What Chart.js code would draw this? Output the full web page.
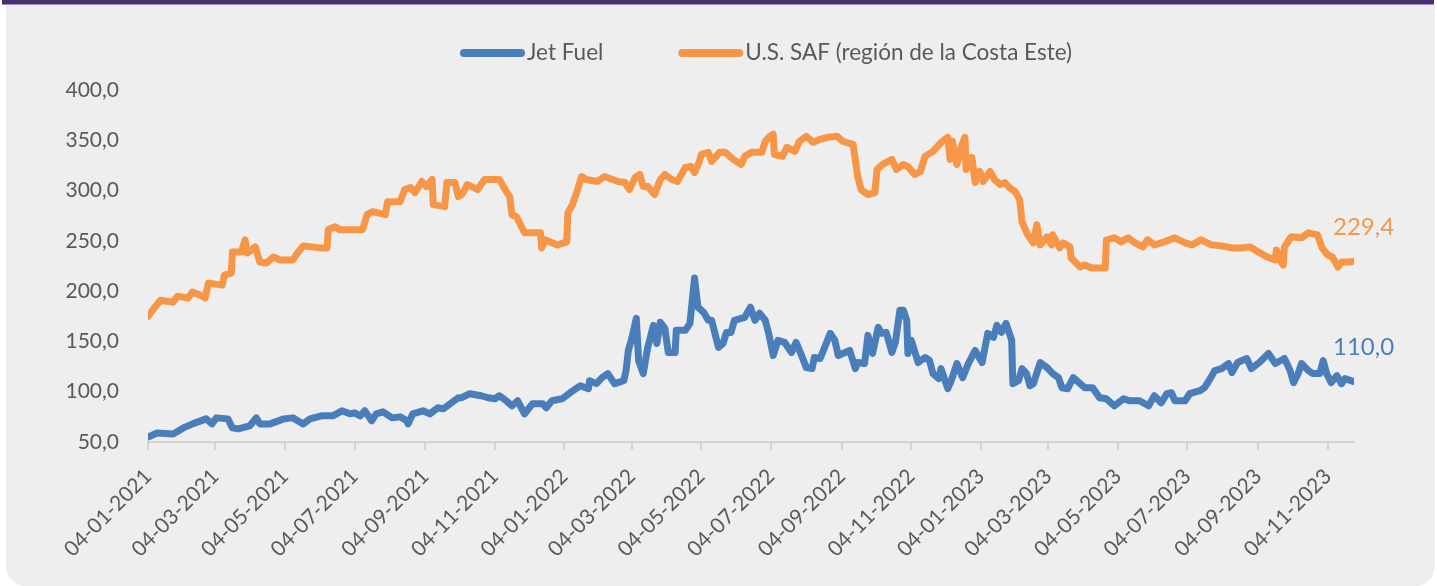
<!DOCTYPE html>
<html><head><meta charset="utf-8">
<script src="https://cdn.jsdelivr.net/npm/chart.js@4.4.1/dist/chart.umd.min.js"></script>
<style>
html,body{margin:0;padding:0;background:#ffffff;width:1437px;height:586px;overflow:hidden;}
#bar{position:absolute;left:2px;top:0;width:1432px;height:4px;background:#46306f;border-bottom:1px solid #a292c2;}
#panel{position:absolute;left:6px;top:5px;width:1429px;height:581px;background:#eeeeee;border-radius:0 0 20px 20px;}
#wrap{position:absolute;left:0;top:0;width:1437px;height:586px;}
</style></head><body>
<div id="bar"></div><div id="panel"></div>
<div id="wrap"><canvas id="c" width="1437" height="586"></canvas></div>
<script>
// ---- data (x = days since 04-01-2021) ----
const START = Date.UTC(2021, 0, 4);
const seriesNames = ['Jet Fuel', 'U.S. SAF (región de la Costa Este)'];
const tickLabels = ['04-01-2021','04-03-2021','04-05-2021','04-07-2021','04-09-2021','04-11-2021',
  '04-01-2022','04-03-2022','04-05-2022','04-07-2022','04-09-2022','04-11-2022',
  '04-01-2023','04-03-2023','04-05-2023','04-07-2023','04-09-2023','04-11-2023'];
const yTicks = [50,100,150,200,250,300,350,400];

const jetDay = [0,8,22,31,39,51,56,60,70,74,79,89,95,98,107,119,127,136,142,152,162,170,177,181,186,190,196,200,206,214,221,227,228,232,241,247,254,259,266,272,275,282,292,298,304,308,314,319,324,330,337,346,349,354,363,370,379,386,387,393,398,403,409,417,419,421,424,428,430,434,438,443,446,449,453,456,462,463,471,475,479,482,487,491,494,500,504,507,511,514,523,528,532,536,541,544,548,552,558,564,568,571,577,582,584,589,592,598,602,605,611,615,620,622,628,631,635,640,643,647,652,655,659,662,665,666,669,675,681,685,688,693,695,701,704,709,714,719,725,731,736,741,744,748,752,757,758,763,766,770,773,776,782,788,793,798,801,806,811,817,821,828,834,840,847,855,860,869,877,882,888,893,897,900,909,913,922,926,931,935,941,947,950,955,963,967,974,982,988,996,1001,1004,1008,1011,1017,1021,1027,1030,1033,1037,1042,1046,1049,1057];
const jetVal = [55,59,58,64,68,73,68,74,73,64,63,66,74,68,68,73,74,68,73,76,76,81,78,79,76,81,71,78,80,74,75,71,68,78,81,78,84,83,89,94,94,98,96,94,93,96,91,86,91,78,88,88,84,91,93,99,106,103,111,108,114,118,108,111,121,141,153,173,131,118,144,166,148,169,163,139,139,161,161,168,213,184,179,171,171,144,148,159,159,171,174,184,171,178,171,158,136,151,149,139,149,141,124,123,134,133,141,158,151,136,139,141,123,129,128,156,138,164,158,159,139,149,181,181,171,138,151,129,134,131,118,113,123,103,111,128,114,128,141,129,158,154,166,159,168,151,108,111,123,118,106,108,129,124,118,114,104,103,114,108,104,104,94,93,86,93,91,91,86,96,89,98,99,91,91,98,101,104,113,121,123,128,119,129,133,123,129,138,128,133,121,109,118,128,121,118,118,131,118,109,116,108,113,110];

const safDay = [0,6,11,22,26,35,39,46,50,53,65,67,73,74,82,85,87,94,98,104,110,116,127,131,136,151,157,158,164,168,188,192,197,208,210,221,225,230,234,240,244,249,250,260,262,269,272,275,280,289,295,308,313,317,319,323,330,344,345,348,359,367,368,372,376,380,384,394,400,412,418,422,427,431,434,438,444,449,453,459,464,471,476,479,483,485,491,494,501,506,513,520,523,529,538,541,545,548,549,556,560,567,571,577,583,589,596,604,609,618,622,625,631,637,639,644,652,656,662,666,672,677,681,688,696,701,703,705,709,713,716,717,722,725,729,732,738,742,747,751,755,760,764,766,771,776,779,782,788,792,793,799,802,808,809,817,821,827,839,840,847,853,859,865,872,876,882,891,900,909,915,923,932,941,950,958,966,973,981,988,989,992,995,996,1002,1011,1017,1025,1029,1034,1038,1043,1046,1052,1057];
const safVal = [175,184,191,189,195,193,199,196,193,208,206,216,218,239,239,251,238,244,229,228,234,231,231,238,245,243,243,261,264,261,261,276,279,276,289,289,301,303,298,309,304,311,286,284,308,308,294,296,306,301,311,311,301,294,276,274,258,258,243,251,246,249,278,286,299,314,311,309,314,309,308,301,313,316,304,304,296,311,316,311,309,323,324,318,328,336,338,329,338,338,331,326,334,338,338,349,354,356,336,334,343,339,349,354,348,351,353,354,349,346,314,301,296,298,321,326,331,321,326,324,316,319,334,339,349,353,331,349,326,344,353,321,333,308,319,309,319,311,306,308,303,299,291,269,256,248,266,246,254,246,256,243,248,244,233,224,226,223,223,251,253,249,253,248,244,251,246,249,253,248,246,251,246,245,243,243,244,239,234,231,241,231,226,244,254,253,258,256,243,236,234,224,229,229,229.4];

// ---- helpers ----
const fmt = v => Number(v).toFixed(1).replace('.', ',');
const labelToDay = s => { const [d,m,y] = s.split('-').map(Number); return Math.round((Date.UTC(y,m-1,d) - START)/86400000); };
const tickDays = tickLabels.map(labelToDay);
const pts = (xs, ys) => xs.map((x,i) => ({x, y: ys[i]}));

const FONT = 'Lato';
const TEXT = '#595959';
const BLUE = '#4a7ebb';
const ORANGE = '#f79646';

const refLegend = {
  id: 'refLegend',
  afterDraw(chart) {
    const ctx = chart.ctx;
    ctx.save();
    ctx.font = '22.5px ' + FONT;
    ctx.textBaseline = 'middle';
    ctx.textAlign = 'left';
    let x = 460; const y = 53;
    chart.data.datasets.forEach(ds => {
      ctx.strokeStyle = ds.borderColor; ctx.lineWidth = 8; ctx.lineCap = 'round';
      ctx.beginPath(); ctx.moveTo(x + 4, y); ctx.lineTo(x + 61, y); ctx.stroke();
      ctx.fillStyle = TEXT;
      ctx.fillText(ds.label, x + 67, y);
      x += 67 + ctx.measureText(ds.label).width + 75;
    });
    ctx.restore();
  }
};
const lastLabels = {
  id: 'lastLabels',
  afterDatasetsDraw(chart) {
    const ctx = chart.ctx;
    ctx.save();
    ctx.font = '24px ' + FONT;
    ctx.textBaseline = 'middle';
    ctx.textAlign = 'left';
    chart.data.datasets.forEach((ds, i) => {
      const meta = chart.getDatasetMeta(i);
      const pt = meta.data[meta.data.length - 1];
      ctx.fillStyle = ds.borderColor;
      ctx.fillText(fmt(ds.data[ds.data.length - 1].y), pt.x - 21, pt.y - 34);
    });
    ctx.restore();
  }
};

new Chart(document.getElementById('c'), {
  type: 'line',
  data: {
    datasets: [
      { label: seriesNames[0], data: pts(jetDay, jetVal), borderColor: BLUE, backgroundColor: BLUE },
      { label: seriesNames[1], data: pts(safDay, safVal), borderColor: ORANGE, backgroundColor: ORANGE }
    ]
  },
  options: {
    responsive: false,
    animation: false,
    events: [],
    layout: { padding: { top: 90, right: 83, bottom: 0, left: 0 } },
    elements: {
      point: { radius: 0 },
      line: { borderWidth: 7, tension: 0, borderJoinStyle: 'round', borderCapStyle: 'round' }
    },
    plugins: { legend: { display: false }, tooltip: { enabled: false } },
    scales: {
      x: {
        type: 'linear', min: 0, max: 1057,
        afterBuildTicks: ax => { ax.ticks = tickDays.map(v => ({ value: v })); },
        afterFit: sc => { sc.height = 144; },
        grid: { display: true, drawOnChartArea: false, drawTicks: true, tickLength: 8, color: '#d4d4d4', lineWidth: 2 },
        border: { display: true, color: '#d4d4d4', width: 2 },
        ticks: {
          autoSkip: false, maxRotation: 45, minRotation: 45, padding: 14,
          color: TEXT, font: { family: FONT, size: 21 },
          callback: (v) => { const k = tickDays.indexOf(v); return k >= 0 ? tickLabels[k] : ''; }
        }
      },
      y: {
        min: 50, max: 400,
        afterBuildTicks: ax => { ax.ticks = yTicks.map(v => ({ value: v })); },
        afterFit: sc => { sc.width = 148; },
        grid: { display: false, drawTicks: false },
        border: { display: false },
        ticks: { padding: 29, color: TEXT, font: { family: FONT, size: 21 }, callback: v => fmt(v) }
      }
    }
  },
  plugins: [refLegend, lastLabels]
});
</script>
</body></html>
